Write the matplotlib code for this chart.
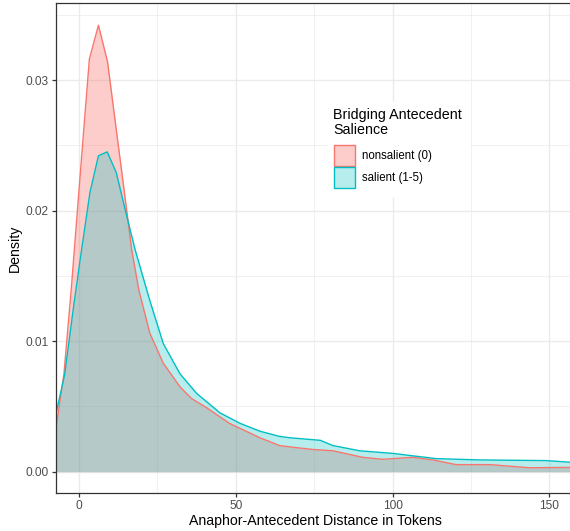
import matplotlib
matplotlib.use("Agg")
import matplotlib.pyplot as plt
from matplotlib.patches import Rectangle
from matplotlib.colors import to_rgba
from matplotlib.ticker import MultipleLocator

plt.rcParams["font.family"] = ["Liberation Sans", "DejaVu Sans"]

# Dichtekurven
x_nonsalient = [-7.3, -4.8, -2.4, 0.4, 3.3, 6.2, 9.1, 12.0, 14.9, 16.8, 19.1, 22.6, 26.9,
                32.2, 35.9, 40.7, 48.0, 57.7, 64.0, 67.2, 74.6, 81.0, 90.5, 96.9, 106.5,
                112.9, 120.3, 131.0, 138.4, 143.7, 158.2]
y_nonsalient = [0.0034, 0.0075, 0.0142, 0.0228, 0.0316, 0.0342, 0.0314, 0.0260, 0.0206,
                0.0170, 0.0139, 0.0106, 0.0083, 0.0065, 0.0056, 0.0049, 0.0037, 0.0026,
                0.0020, 0.0019, 0.0017, 0.0016, 0.0011, 0.00095, 0.0011, 0.0009, 0.00054,
                0.00054, 0.0004, 0.0003, 0.00033]

x_salient = [-7.3, -4.6, -1.7, 0.4, 3.5, 6.2, 9.0, 11.9, 14.9, 17.9, 22.6, 26.9, 32.2,
             37.5, 45.0, 51.4, 57.7, 64.0, 67.2, 72.0, 77.0, 81.0, 89.5, 100.1, 113.9,
             127.7, 148.9, 158.2]
y_salient = [0.0045, 0.0074, 0.0127, 0.0163, 0.0214, 0.0242, 0.0245, 0.0229, 0.0199,
             0.0170, 0.0131, 0.0098, 0.0075, 0.0060, 0.0045, 0.0037, 0.0031, 0.0027,
             0.0026, 0.0025, 0.0024, 0.0020, 0.0016, 0.0014, 0.0010, 0.0009, 0.00085,
             0.0007]

labels = ["nonsalient (0)", "salient (1-5)"]
farben = ["#F8766D", "#00BFC4"]
alphas = [0.36, 0.28]

W, H = 570, 531
fig = plt.figure(figsize=(W / 100, H / 100), dpi=100)
ax = fig.add_axes([56 / W, 1 - 492.7 / H, 519 / W, 489.4 / H])

for xs, ys, c, a in [(x_nonsalient, y_nonsalient, farben[0], alphas[0]),
                     (x_salient, y_salient, farben[1], alphas[1])]:
    ax.fill_between(xs, 0, ys, color=c, alpha=a, linewidth=0)
    ax.plot(xs, ys, color=c, lw=1.0)

ax.set_xlim(-7.34, 158.2)
ax.set_ylim(-0.00161, 0.03588)

ax.xaxis.set_major_locator(MultipleLocator(50))
ax.xaxis.set_minor_locator(MultipleLocator(25))
ax.yaxis.set_minor_locator(MultipleLocator(0.005))
ax.set_yticks([0, 0.01, 0.02, 0.03])
ax.set_yticklabels(["0.00", "0.01", "0.02", "0.03"])

ax.grid(which="major", color="#EBEBEB", lw=1.0)
ax.grid(which="minor", color="#EBEBEB", lw=0.5)
ax.set_axisbelow(True)

for s in ax.spines.values():
    s.set_color("#333333")
    s.set_linewidth(0.9)

ax.tick_params(which="major", length=3, width=0.9, color="#333333",
               labelsize=8.6, labelcolor="#4D4D4D", pad=2)
ax.tick_params(which="minor", length=0)

ax.set_xlabel("Anaphor-Antecedent Distance in Tokens", fontsize=10.2, labelpad=2)
ax.set_ylabel("Density", fontsize=10.2, labelpad=3)

# Legende von Hand (Pixelkoordinaten -> Figur)
def fx(px):
    return px / W

def fy(py):
    return 1 - py / H

fig.add_artist(Rectangle((fx(327), fy(197)), (470 - 327) / W, (197 - 102) / H,
                         transform=fig.transFigure, facecolor="white", edgecolor="none"))
fig.text(fx(333), fy(108.5), "Bridging Antecedent\nSalience", fontsize=10.3,
         va="top", ha="left", linespacing=1.0)
key_top = [145, 167]
for i, (lab, c, a) in enumerate(zip(labels, farben, alphas)):
    t = key_top[i]
    fig.add_artist(Rectangle((fx(334), fy(t + 21)), 21 / W, 21 / H,
                             transform=fig.transFigure, facecolor=to_rgba(c, a),
                             edgecolor=c, lw=1.0))
    fig.text(fx(362.5), fy(t + 10.5), lab, fontsize=8.3, va="center", ha="left")

fig.savefig("out.png", dpi=100)
